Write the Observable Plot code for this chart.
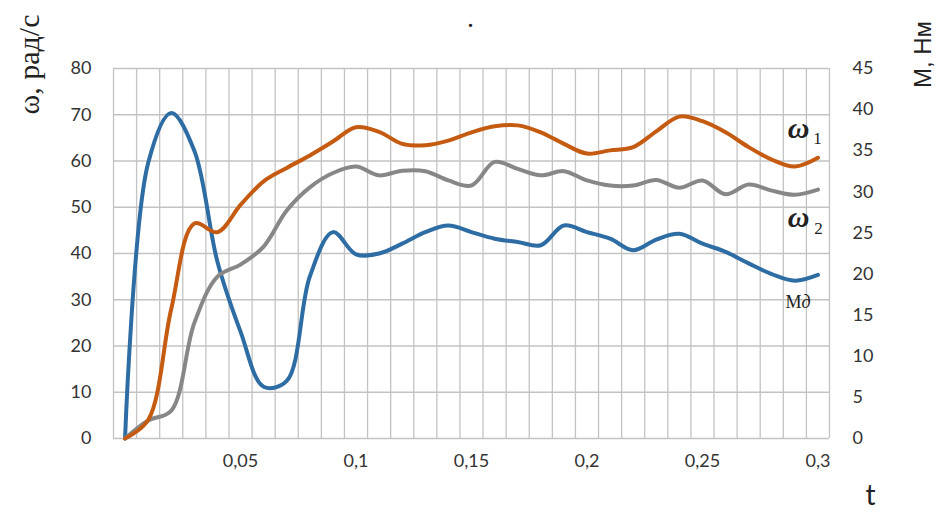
<!DOCTYPE html>
<html>
<head>
<meta charset="utf-8">
<script src="https://cdn.jsdelivr.net/npm/d3@7"></script>
<script src="https://cdn.jsdelivr.net/npm/@observablehq/plot@0.6"></script>
<style>
  html, body { margin: 0; padding: 0; background: #fff; }
</style>
</head>
<body>
<div id="chart"></div>
<script>
// time, s (one sample every 0.01 s)
const t = [0, 0.01, 0.02, 0.03, 0.04, 0.05, 0.06, 0.07, 0.08, 0.09, 0.1,
           0.11, 0.12, 0.13, 0.14, 0.15, 0.16, 0.17, 0.18, 0.19, 0.2,
           0.21, 0.22, 0.23, 0.24, 0.25, 0.26, 0.27, 0.28, 0.29, 0.3];

// ω1, rad/s
const omega1 = [0, 4, 28, 46.5, 44.6, 50.5, 55.6, 58.5, 61.2, 64.2, 67.3,
                66.3, 63.7, 63.4, 64.4, 66.2, 67.5, 67.7, 66.2, 63.7, 61.6,
                62.3, 63, 66.4, 69.6, 68.6, 66.2, 63, 60.3, 58.8, 60.7];

// ω2, rad/s
const omega2 = [0, 3.9, 6, 25, 35, 37.6, 41.5, 49.3, 54.3, 57.4, 58.8,
                56.9, 57.9, 57.8, 55.8, 54.7, 59.8, 58.3, 56.9, 57.8, 55.8,
                54.7, 54.7, 55.9, 54.2, 55.8, 52.8, 54.9, 53.6, 52.7, 53.8];

// Mд, N·m (right axis)
const torque = [0, 33.5, 39.6, 35, 21.5, 13, 6.3, 7, 19.7, 25.1, 22.4,
                22.5, 23.7, 25.1, 25.9, 25.1, 24.3, 23.9, 23.5, 25.9, 25.1,
                24.3, 22.9, 24.2, 24.9, 23.7, 22.7, 21.3, 20, 19.2, 19.9];

// axis ticks
const leftTicks = [0, 10, 20, 30, 40, 50, 60, 70, 80];
const rightTicks = [0, 5, 10, 15, 20, 25, 30, 35, 40, 45];
const xTicks = [0.05, 0.1, 0.15, 0.2, 0.25, 0.3];

// right axis is drawn on the left scale: 0..45 N·m spans 0..80 rad/s
const k = leftTicks[leftTicks.length - 1] / rightTicks[rightTicks.length - 1];

const rows = t.map((ti, i) => ({t: ti, w1: omega1[i], w2: omega2[i], m: torque[i]}));

// category cells are 0.01 wide; grid lines fall on their edges
const step = 0.01;
const gridX = d3.range(t.length + 1).map(j => +(t[0] - step / 2 + j * step).toFixed(4));

const BLUE = "#2e6da4", ORANGE = "#c55a11", GRAY = "#878787", GRID = "#c3c3c3", INK = "#222";
const comma = d => String(d).replace(".", ",");

// free text placed relative to the plot's top-left corner
const label = (s, dx, dy, o = {}) => Plot.text([s], {
  frameAnchor: "top-left", dx, dy, textAnchor: "middle", lineAnchor: "middle",
  fill: INK, fontFamily: "Liberation Serif, serif", ...o
});

const chart = Plot.plot({
  width: 937,
  height: 515,
  marginLeft: 113,
  marginRight: 108,
  marginTop: 68,
  marginBottom: 77,
  style: {fontFamily: "Lato, sans-serif", fontSize: "18px", color: "#333", background: "#fff", overflow: "visible"},
  x: {type: "linear", domain: [gridX[0], gridX[gridX.length - 1]], label: null},
  y: {domain: [0, 80], label: null},
  marks: [
    Plot.gridY(leftTicks, {stroke: GRID, strokeOpacity: 1, strokeWidth: 1.3}),
    Plot.ruleX(gridX, {stroke: GRID, strokeWidth: 1.3}),
    Plot.axisY(leftTicks, {anchor: "left", tickSize: 0, tickPadding: 22}),
    Plot.axisY(rightTicks.map(v => v * k), {anchor: "right", tickSize: 0, tickPadding: 23,
      tickFormat: v => Math.round(v / k)}),
    Plot.axisX(xTicks, {anchor: "bottom", tickSize: 0, tickPadding: 16, tickFormat: comma}),
    Plot.line(rows, {x: "t", y: d => d.m * k, stroke: BLUE, strokeWidth: 4, curve: "catmull-rom"}),
    Plot.line(rows, {x: "t", y: "w2", stroke: GRAY, strokeWidth: 4, curve: "catmull-rom"}),
    Plot.line(rows, {x: "t", y: "w1", stroke: ORANGE, strokeWidth: 4, curve: "catmull-rom"}),

    // axis titles
    label("ω, рад/с", -84, -4, {rotate: -90, fontSize: 30}),
    label("M, Нм", 810, -14, {rotate: -90, fontSize: 24, fontFamily: "Liberation Sans, sans-serif"}),
    label("t", 757, 428, {fontSize: 28, fontFamily: "Lato, sans-serif"}),
    label(".", 357, -50, {fontSize: 28}),

    // series labels
    label("ω", 685, 60, {fontStyle: "italic", fontWeight: "bold", fontSize: 30}),
    label("1", 704, 70, {fontSize: 17}),
    label("ω", 685, 149, {fontStyle: "italic", fontWeight: "bold", fontSize: 30}),
    label("2", 705, 160, {fontSize: 17}),
    label("M", 672, 234, {textAnchor: "start", fontSize: 18}),
    label("д", 688, 234, {textAnchor: "start", fontStyle: "italic", fontSize: 18})
  ]
});

document.getElementById("chart").appendChild(chart);
</script>
</body>
</html>
